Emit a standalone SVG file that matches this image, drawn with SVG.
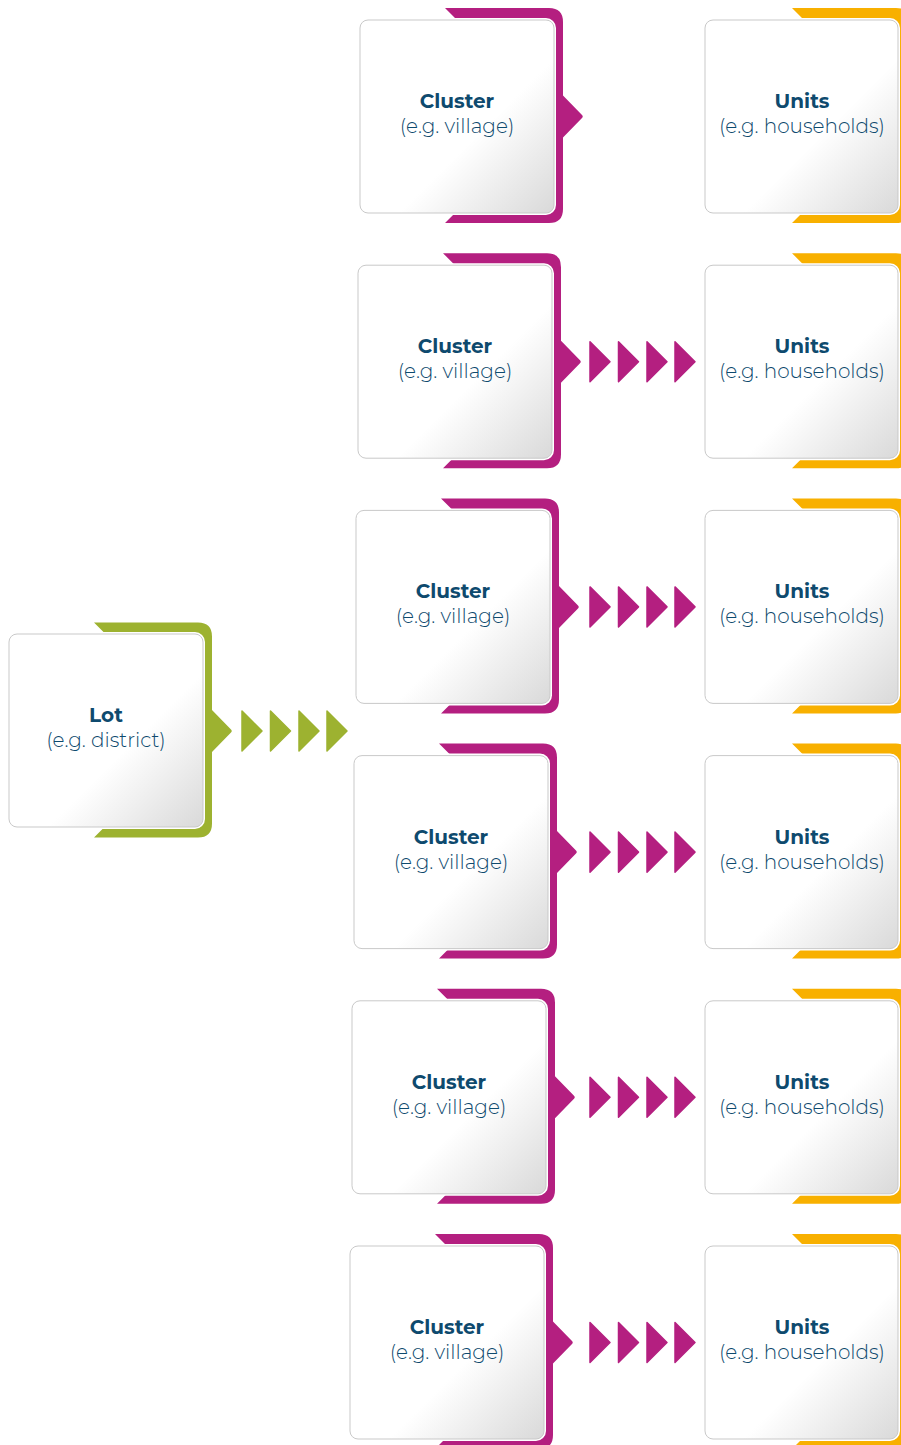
<svg xmlns="http://www.w3.org/2000/svg" xmlns:xlink="http://www.w3.org/1999/xlink" width="901" height="1445" viewBox="0 0 901 1445">
  <style>
    .box { fill: url(#boxGrad); stroke: #c9c9c9; stroke-width: 1; }
    .halo { fill: #ffffff; stroke: #ffffff; stroke-width: 4; }
    .magenta { fill: #b41f80; }
    .green { fill: #9db230; }
    .orange { fill: #f8b000; }
    .chev-m { fill: #b41f80; stroke: #b41f80; stroke-width: 1.5; stroke-linejoin: round; }
    .chev-g { fill: #9db230; stroke: #9db230; stroke-width: 1.5; stroke-linejoin: round; }
    .title { font-family: "Montserrat", "Open Sans", "Liberation Sans", sans-serif; font-weight: 700; font-size: 20px; fill: #0e4a6e; text-anchor: middle; }
    .sub { font-family: "Montserrat", "Open Sans", "Liberation Sans", sans-serif; font-weight: 300; font-size: 20px; fill: #0e4a6e; text-anchor: middle; }
  </style>
  <defs>
    <linearGradient id="boxGrad" x1="0" y1="0" x2="1" y2="1">
      <stop offset="0" stop-color="#ffffff"/>
      <stop offset="0.6" stop-color="#ffffff"/>
      <stop offset="1" stop-color="#d9d9d9"/>
    </linearGradient>
    <path id="tabArrow" d="M85,-12 H189 Q203,-12 203,2 V75.5 L222,95 Q223.5,96.5 222,98 L203,117.5 V189 Q203,203 189,203 H85 L97,191 V0 Z"/>
    <path id="tabPlain" d="M85,-12 H189 Q203,-12 203,2 V189 Q203,203 189,203 H85 L97,191 V0 Z"/>
    <g id="card">
      <rect class="halo" x="0" y="0" width="194" height="193" rx="8"/>
      <rect class="box" x="0" y="0" width="194" height="193" rx="8"/>
    </g>
    <g id="cardU">
      <rect class="halo" x="0" y="0" width="193" height="193" rx="8"/>
      <rect class="box" x="0" y="0" width="193" height="193" rx="8"/>
    </g>
    <path id="chev" d="M0,0 L20,20 L0,40 Z"/>
  </defs>

  <!-- Lot -->
  <g id="node-lot" transform="translate(9,634)">
    <use xlink:href="#tabArrow" class="green" transform="translate(0,0.5)"/>
    <use xlink:href="#card"/>
    <text class="title" x="97" y="88">Lot</text>
    <text class="sub" x="97" y="113">(e.g. district)</text>
  </g>

  <!-- Clusters -->
  <g id="node-cluster-1" transform="translate(360,20)">
    <use xlink:href="#tabArrow" class="magenta"/>
    <use xlink:href="#card"/>
    <text class="title" x="97" y="88">Cluster</text>
    <text class="sub" x="97" y="113">(e.g. village)</text>
  </g>
  <g id="node-cluster-2" transform="translate(358,265.2)">
    <use xlink:href="#tabArrow" class="magenta"/>
    <use xlink:href="#card"/>
    <text class="title" x="97" y="88">Cluster</text>
    <text class="sub" x="97" y="113">(e.g. village)</text>
  </g>
  <g id="node-cluster-3" transform="translate(356,510.4)">
    <use xlink:href="#tabArrow" class="magenta"/>
    <use xlink:href="#card"/>
    <text class="title" x="97" y="88">Cluster</text>
    <text class="sub" x="97" y="113">(e.g. village)</text>
  </g>
  <g id="node-cluster-4" transform="translate(354,755.6)">
    <use xlink:href="#tabArrow" class="magenta"/>
    <use xlink:href="#card"/>
    <text class="title" x="97" y="88">Cluster</text>
    <text class="sub" x="97" y="113">(e.g. village)</text>
  </g>
  <g id="node-cluster-5" transform="translate(352,1000.8)">
    <use xlink:href="#tabArrow" class="magenta"/>
    <use xlink:href="#card"/>
    <text class="title" x="97" y="88">Cluster</text>
    <text class="sub" x="97" y="113">(e.g. village)</text>
  </g>
  <g id="node-cluster-6" transform="translate(350,1246)">
    <use xlink:href="#tabArrow" class="magenta"/>
    <use xlink:href="#card"/>
    <text class="title" x="97" y="88">Cluster</text>
    <text class="sub" x="97" y="113">(e.g. village)</text>
  </g>

  <!-- Units -->
  <g id="node-units-1" transform="translate(705,20)">
    <use xlink:href="#tabPlain" class="orange" transform="translate(2,0)"/>
    <use xlink:href="#cardU"/>
    <text class="title" x="97" y="88">Units</text>
    <text class="sub" x="97" y="113">(e.g. households)</text>
  </g>
  <g id="node-units-2" transform="translate(705,265.2)">
    <use xlink:href="#tabPlain" class="orange" transform="translate(2,0)"/>
    <use xlink:href="#cardU"/>
    <text class="title" x="97" y="88">Units</text>
    <text class="sub" x="97" y="113">(e.g. households)</text>
  </g>
  <g id="node-units-3" transform="translate(705,510.4)">
    <use xlink:href="#tabPlain" class="orange" transform="translate(2,0)"/>
    <use xlink:href="#cardU"/>
    <text class="title" x="97" y="88">Units</text>
    <text class="sub" x="97" y="113">(e.g. households)</text>
  </g>
  <g id="node-units-4" transform="translate(705,755.6)">
    <use xlink:href="#tabPlain" class="orange" transform="translate(2,0)"/>
    <use xlink:href="#cardU"/>
    <text class="title" x="97" y="88">Units</text>
    <text class="sub" x="97" y="113">(e.g. households)</text>
  </g>
  <g id="node-units-5" transform="translate(705,1000.8)">
    <use xlink:href="#tabPlain" class="orange" transform="translate(2,0)"/>
    <use xlink:href="#cardU"/>
    <text class="title" x="97" y="88">Units</text>
    <text class="sub" x="97" y="113">(e.g. households)</text>
  </g>
  <g id="node-units-6" transform="translate(705,1246)">
    <use xlink:href="#tabPlain" class="orange" transform="translate(2,0)"/>
    <use xlink:href="#cardU"/>
    <text class="title" x="97" y="88">Units</text>
    <text class="sub" x="97" y="113">(e.g. households)</text>
  </g>

  <!-- Connectors (chevron arrows) -->
  <g id="connectors">
    <g id="conn-lot" class="chev-g" transform="translate(0,711)">
      <use xlink:href="#chev" x="242"/>
      <use xlink:href="#chev" x="270.5"/>
      <use xlink:href="#chev" x="299"/>
      <use xlink:href="#chev" x="327"/>
    </g>
    <g id="conn-2" class="chev-m" transform="translate(0,341.7)">
      <use xlink:href="#chev" x="590"/>
      <use xlink:href="#chev" x="618.5"/>
      <use xlink:href="#chev" x="647"/>
      <use xlink:href="#chev" x="675"/>
    </g>
    <g id="conn-3" class="chev-m" transform="translate(0,586.9)">
      <use xlink:href="#chev" x="590"/>
      <use xlink:href="#chev" x="618.5"/>
      <use xlink:href="#chev" x="647"/>
      <use xlink:href="#chev" x="675"/>
    </g>
    <g id="conn-4" class="chev-m" transform="translate(0,832.1)">
      <use xlink:href="#chev" x="590"/>
      <use xlink:href="#chev" x="618.5"/>
      <use xlink:href="#chev" x="647"/>
      <use xlink:href="#chev" x="675"/>
    </g>
    <g id="conn-5" class="chev-m" transform="translate(0,1077.3)">
      <use xlink:href="#chev" x="590"/>
      <use xlink:href="#chev" x="618.5"/>
      <use xlink:href="#chev" x="647"/>
      <use xlink:href="#chev" x="675"/>
    </g>
    <g id="conn-6" class="chev-m" transform="translate(0,1322.5)">
      <use xlink:href="#chev" x="590"/>
      <use xlink:href="#chev" x="618.5"/>
      <use xlink:href="#chev" x="647"/>
      <use xlink:href="#chev" x="675"/>
    </g>
  </g>
</svg>
